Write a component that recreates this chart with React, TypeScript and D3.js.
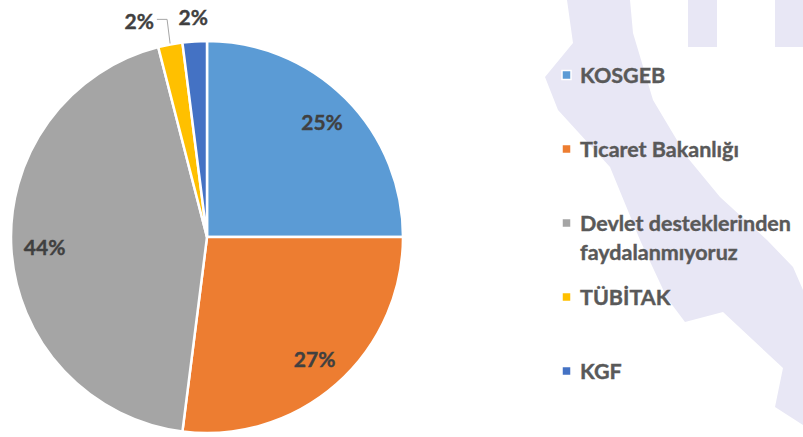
import { useEffect, useRef } from "react";
import * as d3 from "d3";

const categories = [
  "KOSGEB",
  "Ticaret Bakanlığı",
  "Devlet desteklerinden faydalanmıyoruz",
  "TÜBİTAK",
  "KGF",
];
const legendLines = [
  ["KOSGEB"],
  ["Ticaret Bakanlığı"],
  ["Devlet desteklerinden", "faydalanmıyoruz"],
  ["TÜBİTAK"],
  ["KGF"],
];
const values = [25, 27, 44, 2, 2];
const colors = ["#5B9BD5", "#ED7D31", "#A5A5A5", "#FFC000", "#4472C4"];
// which labels sit outside the pie
const outside = [false, false, false, true, true];

const App = () => {
  const ref = useRef<SVGSVGElement>(null);

  useEffect(() => {
    const width = 803;
    const height = 437;
    const cx = 207;
    const cy = 237;
    const radius = 196;
    const font = "Lato, 'Open Sans', sans-serif";

    const svg = d3.select(ref.current).attr("width", width).attr("height", height);
    svg.selectAll("*").remove();

    // faint watermark in the background
    const wm = svg.append("g").attr("fill", "#E8E7F5");
    wm.append("path").attr(
      "d",
      "M567,0 L573,43 L545,77 L558,110 L610,167 L640,240 L667,298 L685,322 L723,312 L783,368 L775,407 L803,425 L803,290 L793,267 L767,240 L720,197 L687,157 L653,100 L633,33 L630,0 Z"
    );
    wm.append("rect").attr("x", 688).attr("y", 0).attr("width", 29).attr("height", 47);
    wm.append("rect").attr("x", 775).attr("y", 0).attr("width", 28).attr("height", 47);

    const pie = d3.pie<number>().sort(null).value((d) => d);
    const arcs = pie(values);

    const arc = d3.arc<d3.PieArcDatum<number>>().innerRadius(0).outerRadius(radius);
    const labelArc = d3
      .arc<d3.PieArcDatum<number>>()
      .innerRadius(radius * 0.83)
      .outerRadius(radius * 0.83);
    const outerArc = d3
      .arc<d3.PieArcDatum<number>>()
      .innerRadius(radius * 1.12)
      .outerRadius(radius * 1.12);
    const edgeArc = d3
      .arc<d3.PieArcDatum<number>>()
      .innerRadius(radius + 1)
      .outerRadius(radius + 1);

    const g = svg.append("g").attr("transform", `translate(${cx},${cy})`);

    g.selectAll("path.slice")
      .data(arcs)
      .enter()
      .append("path")
      .attr("class", "slice")
      .attr("d", arc)
      .attr("fill", (d, i) => colors[i])
      .attr("stroke", "#fff")
      .attr("stroke-width", 2.5)
      .attr("stroke-linejoin", "round");

    arcs.forEach((d, i) => {
      const pct = `${Math.round((d.value / d3.sum(values)) * 100)}%`;
      const [x, y] = outside[i] ? outerArc.centroid(d) : labelArc.centroid(d);
      const t = g
        .append("text")
        .attr("y", y)
        .attr("dy", "0.36em")
        .attr("font-family", font)
        .attr("font-weight", 700)
        .attr("font-size", 21)
        .attr("fill", "#404040")
        .attr("stroke", "#404040")
        .attr("stroke-width", 0.4)
        .text(pct);
      if (i === 3) {
        // pushed left to clear its neighbour, with a leader line
        const lx = x - 12;
        t.attr("x", lx).attr("text-anchor", "end");
        const [ex, ey] = edgeArc.centroid(d);
        const ly = y - 2;
        g.append("polyline")
          .attr("points", `${lx + 3},${ly} ${ex - 3},${ly} ${ex},${ey}`)
          .attr("fill", "none")
          .attr("stroke", "#A6A6A6")
          .attr("stroke-width", 1);
      } else {
        t.attr("x", x).attr("text-anchor", "middle");
      }
    });

    // legend
    const legend = svg.append("g").attr("transform", "translate(562,75)");
    categories.forEach((c, i) => {
      const item = legend.append("g").attr("transform", `translate(0,${i * 74})`);
      item
        .append("rect")
        .attr("x", 0)
        .attr("y", -4.5)
        .attr("width", 9)
        .attr("height", 9)
        .attr("fill", colors[i])
        .attr("stroke", "#fff")
        .attr("stroke-width", 1.5);
      legendLines[i].forEach((line, j) => {
        item
          .append("text")
          .attr("x", 18)
          .attr("y", j * 29)
          .attr("dy", "0.36em")
          .attr("font-family", font)
          .attr("font-weight", 700)
          .attr("font-size", 21.5)
          .attr("fill", "#595959")
          .attr("stroke", "#595959")
          .attr("stroke-width", 0.4)
          .text(line);
      });
    });
  }, []);

  return <svg ref={ref} style={{ position: "absolute", left: 0, top: 0 }}></svg>;
};

export default App;
